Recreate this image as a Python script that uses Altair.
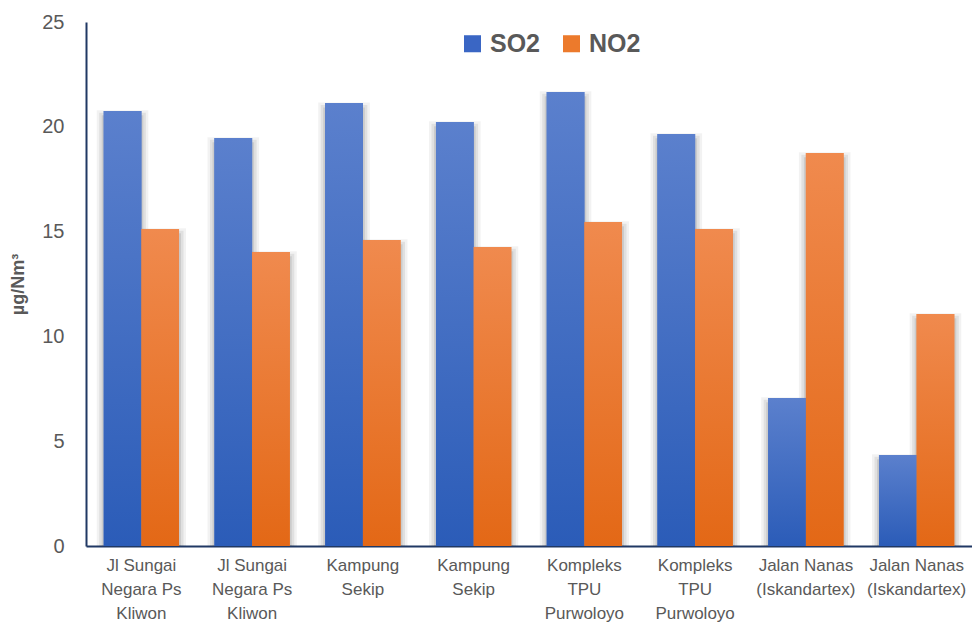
import altair as alt
import pandas as pd

# Monitoring sites (two samples per site) and measured concentrations
site_labels = [
    ["Jl Sungai", "Negara Ps", "Kliwon"],
    ["Jl Sungai", "Negara Ps", "Kliwon"],
    ["Kampung", "Sekip"],
    ["Kampung", "Sekip"],
    ["Kompleks", "TPU", "Purwoloyo"],
    ["Kompleks", "TPU", "Purwoloyo"],
    ["Jalan Nanas", "(Iskandartex)"],
    ["Jalan Nanas", "(Iskandartex)"],
]
so2 = [20.75, 19.47, 21.13, 20.23, 21.66, 19.66, 7.06, 4.34]
no2 = [15.12, 14.03, 14.60, 14.27, 15.46, 15.12, 18.75, 11.07]
series = ["SO2", "NO2"]
y_ticks = [0, 5, 10, 15, 20, 25]

rows = []
for i in range(len(site_labels)):
    rows.append({"site": i, "series": "SO2", "value": so2[i]})
    rows.append({"site": i, "series": "NO2", "value": no2[i]})
df = pd.DataFrame(rows)

FONT = "Liberation Sans Narrow, Arial Narrow, Liberation Sans, sans-serif"
GREY = "#595959"
AXIS_COLOR = "#203864"

label_lookup = "[" + ",".join(
    "[" + ",".join("'" + s + "'" for s in lines) + "]" for lines in site_labels
) + "]"

x_enc = alt.X(
    "site:O",
    title=None,
    scale=alt.Scale(paddingInner=0.32, paddingOuter=0.16),
    axis=alt.Axis(
        labelExpr=label_lookup + "[datum.value]",
        labelAngle=0,
        labelFontSize=17,
        labelColor=GREY,
        labelFont=FONT,
        labelLineHeight=24,
        labelPadding=11,
        ticks=False,
        domainColor=AXIS_COLOR,
        domainWidth=2,
    ),
)
y_enc = alt.Y(
    "value:Q",
    title="µg/Nm³",
    scale=alt.Scale(domain=[0, 25], nice=False),
    axis=alt.Axis(
        values=y_ticks,
        grid=False,
        ticks=False,
        labelFontSize=20,
        labelColor=GREY,
        labelFont=FONT,
        labelPadding=22,
        domainColor=AXIS_COLOR,
        domainWidth=2,
        titleFontSize=18,
        titleFont=FONT,
        titleFontWeight="bold",
        titleColor=GREY,
        titlePadding=14,
    ),
)
xoff = alt.XOffset("series:N", scale=alt.Scale(domain=series, paddingInner=0))


def gradient(stops):
    return alt.Gradient(
        gradient="linear",
        stops=[alt.GradientStop(color=c, offset=o) for o, c in stops],
        x1=0, x2=0, y1=0, y2=1,
    )


# Soft shadow around each bar: a few translucent outlines of decreasing width,
# starting a little below the bar top and clipped at the baseline
shadow_layers = []
for stroke_w, alpha in [(14, 0.05), (9, 0.07), (4, 0.09)]:
    shadow_layers.append(
        alt.Chart(df)
        .transform_calculate(top="datum.value - 0.3")
        .mark_bar(
            clip=True,
            fill="transparent",
            stroke=f"rgba(0,0,0,{alpha})",
            strokeWidth=stroke_w,
        )
        .encode(
            x=x_enc,
            y=alt.Y("top:Q", scale=alt.Scale(domain=[0, 25], nice=False)),
            xOffset=xoff,
        )
    )

# Flat-coloured bars carry the legend; gradient bars are drawn over them
base = alt.Chart(df).mark_bar().encode(
    x=x_enc,
    y=y_enc,
    xOffset=xoff,
    color=alt.Color(
        "series:N",
        scale=alt.Scale(domain=series, range=["#3a66c4", "#ec7a2c"]),
        legend=alt.Legend(
            title=None,
            orient="none",
            legendX=374,
            legendY=9,
            direction="horizontal",
            symbolType="square",
            symbolSize=290,
            symbolStrokeWidth=0,
            labelFontSize=25,
            labelFontWeight="bold",
            labelFont=FONT,
            labelColor=GREY,
            labelOffset=5,
            columnPadding=18,
        ),
    ),
)

so2_bars = (
    alt.Chart(df)
    .transform_filter(alt.datum.series == "SO2")
    .mark_bar(color=gradient([(0, "#5b80cd"), (1, "#2b5cb8")]))
    .encode(x=x_enc, y=y_enc, xOffset=xoff)
)
no2_bars = (
    alt.Chart(df)
    .transform_filter(alt.datum.series == "NO2")
    .mark_bar(color=gradient([(0, "#f08a4e"), (1, "#e36816")]))
    .encode(x=x_enc, y=y_enc, xOffset=xoff)
)

chart = (
    alt.layer(*shadow_layers, base, so2_bars, no2_bars)
    .properties(
        width=886,
        height=524,
        background="white",
        autosize=alt.AutoSizeParams(type="none"),
        padding={"left": 86, "top": 22, "right": 0, "bottom": 85},
    )
    .configure_view(strokeWidth=0, stroke="transparent")
    .configure_axis(grid=False)
)

chart.save("out.html", embed_options={"renderer": "svg", "actions": False})
